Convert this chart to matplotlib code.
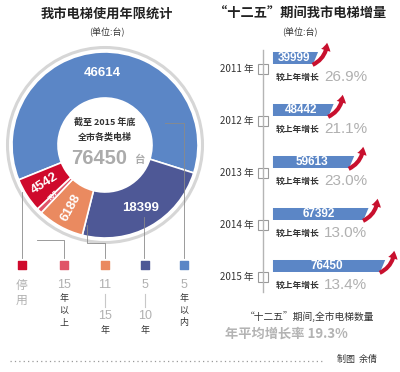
import matplotlib
matplotlib.use('Agg')
import numpy as np
import matplotlib.pyplot as plt
import matplotlib.transforms as mtransforms
from matplotlib.patches import Polygon, Circle, FancyArrowPatch

plt.rcParams['font.family'] = ['Noto Sans CJK SC', 'DejaVu Sans']
NUM = 'Liberation Sans'

# donut: elevator age groups (units)
ages = ['5年以内', '5-10年', '11-15年', '15年以上', '停用']
counts = [46614, 18399, 6188, 707, 4542]
age_colors = ['#5b86c6', '#4e5896', '#ea8a60', '#e05468', '#cf0a2c']
total = 76450

# bars: elevators per year in the 12th five-year plan
years = ['2011', '2012', '2013', '2014', '2015']
stock = [39999, 48442, 59613, 67392, 76450]
growth = ['26.9%', '21.1%', '23.0%', '13.0%', '13.4%']
avg_growth = '19.3%'

grey = '#ababab'
dark = '#333333'
line_c = '#8a8a8a'

fig = plt.figure(figsize=(4, 3.72), dpi=100)

# pie axes, centred on pixel (105, 145)
pa = fig.add_axes([5 / 400, 127 / 372, 200 / 400, 200 / 372])
wedges, _ = pa.pie(counts, colors=age_colors, startangle=202, counterclock=False,
                   radius=0.93, wedgeprops=dict(width=0.46, edgecolor='white', linewidth=1.2))
pa.set_xlim(-1, 1)
pa.set_ylim(-1, 1)
pa.set_aspect('equal')
pa.axis('off')
pa.add_patch(Circle((0, 0), 0.975, fill=False, ec='#d6d6d6', lw=2.2))

for k, w in enumerate(wedges):
    mid = (w.theta1 + w.theta2) / 2
    r = 0.72
    x, y = r * np.cos(np.radians(mid)), r * np.sin(np.radians(mid))
    rot = 0 if k < 2 else mid + 180
    size = 9.5 if k < 3 else (5 if k == 3 else 9.5)
    pa.text(x, y, str(counts[k]), color='white', fontsize=size, fontweight='bold',
            ha='center', va='center', rotation=rot, family=NUM)

pa.text(0, 0.23, '截至 2015 年底', ha='center', va='center', fontsize=6.5,
        fontweight='bold', color=dark)
pa.text(0, 0.08, '全市各类电梯', ha='center', va='center', fontsize=6.5,
        fontweight='bold', color=dark)
pa.text(-0.06, -0.13, str(total), ha='center', va='center', fontsize=14.5,
        fontweight='bold', color=grey, family=NUM)
pa.text(0.34, -0.15, '台', ha='center', va='center', fontsize=7.5,
        fontweight='bold', color=grey)

# overlay in pixel coordinates for titles, leader lines and legend
ov = fig.add_axes([0, 0, 1, 1], zorder=3)
ov.set_xlim(0, 400)
ov.set_ylim(372, 0)
ov.axis('off')
ov.patch.set_alpha(0)

ov.text(107, 14, '我市电梯使用年限统计', ha='center', va='center', fontsize=9.5,
        fontweight='bold', color='#222222')
ov.text(107, 32, '(单位:台)', ha='center', va='center', fontsize=6.5, color=dark)
ov.text(300, 14, '“十二五”期间我市电梯增量', ha='center', va='center', fontsize=9.5,
        fontweight='bold', color='#222222')
ov.text(300, 32, '(单位:台)', ha='center', va='center', fontsize=6.5, color=dark)

leaders = [
    [(22, 192), (22, 258)],
    [(37, 240), (64, 240), (64, 258)],
    [(87, 225), (87, 243), (105, 243), (105, 258)],
    [(144, 217), (144, 258)],
    [(165, 123), (184, 123), (184, 258)],
]
for pts in leaders:
    xs, ys = zip(*pts)
    ov.plot(xs, ys, color=line_c, lw=0.6)

leg_x = [22, 64, 105, 145, 184]
leg_colors = age_colors[::-1]
ov.scatter(leg_x, [265] * 5, marker='s', s=26, c=leg_colors, zorder=4)

big = dict(ha='center', va='center', fontsize=9, color='#b0b0b0', family=NUM)
bigc = dict(ha='center', va='center', fontsize=8.5, color='#b0b0b0')
small = dict(ha='center', va='center', fontsize=6.5, color=dark)
ov.text(22, 285, '停', **bigc)
ov.text(22, 300, '用', **bigc)
ov.text(64, 285, '15', **big)
for j, ch in enumerate('年以上'):
    ov.text(64, 298 + 12.5 * j, ch, **small)
ov.text(105, 285, '11', **big)
ov.plot([105, 105], [294, 307], color='#c8c8c8', lw=0.8)
ov.text(105, 316, '15', **big)
ov.text(105, 331, '年', **small)
ov.text(145, 285, '5', **big)
ov.plot([145, 145], [294, 307], color='#c8c8c8', lw=0.8)
ov.text(145, 316, '10', **big)
ov.text(145, 331, '年', **small)
ov.text(184, 285, '5', **big)
for j, ch in enumerate('年以内'):
    ov.text(184, 298 + 12.5 * j, ch, **small)

ov.plot([10, 325], [361, 361], color='#9a9a9a', lw=0.9, ls=(0, (1, 2.5)))
ov.text(357, 359, '制图  余倩', ha='center', va='center', fontsize=6.5, color=dark)

# bar axes: x = elevator count, y = year index
ba = fig.add_axes([210 / 400, 72 / 372, 190 / 400, 260 / 372], zorder=2)
ba.set_xlim(-18700, 84500)
ba.set_ylim(4.654, -0.346)
ba.axis('off')
ba.patch.set_alpha(0)
base = 15500
px = 543.0   # value units per pixel
py = 1 / 52  # index units per pixel
h = 12 * py
trans = mtransforms.blended_transform_factory(ov.transData, ba.transData)

ov.plot([263, 263], [50, 292], color='#b5b5b5', lw=1.0)
for i, (yr, v, g) in enumerate(zip(years, stock, growth)):
    poly = Polygon([(base, i - h / 2), (v, i - h / 2), (v - 5 * px, i + h / 2),
                    (base, i + h / 2)], closed=True, fc='#5b86c6', ec='none')
    ba.add_patch(poly)
    ba.text((base + v) / 2 - 2 * px, i, str(v), ha='center', va='center',
            fontsize=8.5, fontweight='bold', color='white', family=NUM)
    arr = FancyArrowPatch((v - 8 * px, i + 8 * py), (v + 9 * px, i - 18 * py),
                          connectionstyle='arc3,rad=0.35',
                          arrowstyle='simple,head_length=0.55,head_width=0.7,tail_width=0.3',
                          mutation_scale=10, color='#c8102e', lw=0, zorder=5)
    ba.add_patch(arr)
    ba.text(237, i + 11 * py, yr + ' 年', transform=trans, ha='center', va='center',
            fontsize=7, color=dark)
    ba.plot([263], [i + 11 * py], transform=trans, marker='s', ms=6.5, mfc='white',
            mec='#9a9a9a', mew=0.8, clip_on=False)
    ba.text(276, i + 19 * py, '较上年增长', transform=trans, ha='left', va='center',
            fontsize=6.3, fontweight='bold', color=dark)
    ba.text(324, i + 19 * py, g, transform=trans, ha='left', va='center',
            fontsize=11, color='#b0b0b0', family=NUM)

ov.text(310, 317, '“十二五”期间,全市电梯数量', ha='center', va='center', fontsize=7,
        color=dark)
ov.text(286, 334, '年平均增长率 ' + avg_growth, ha='center', va='center', fontsize=9.5,
        fontweight='bold', color='#b3b3b3')

fig.savefig('out.png', dpi=100, facecolor='white')
